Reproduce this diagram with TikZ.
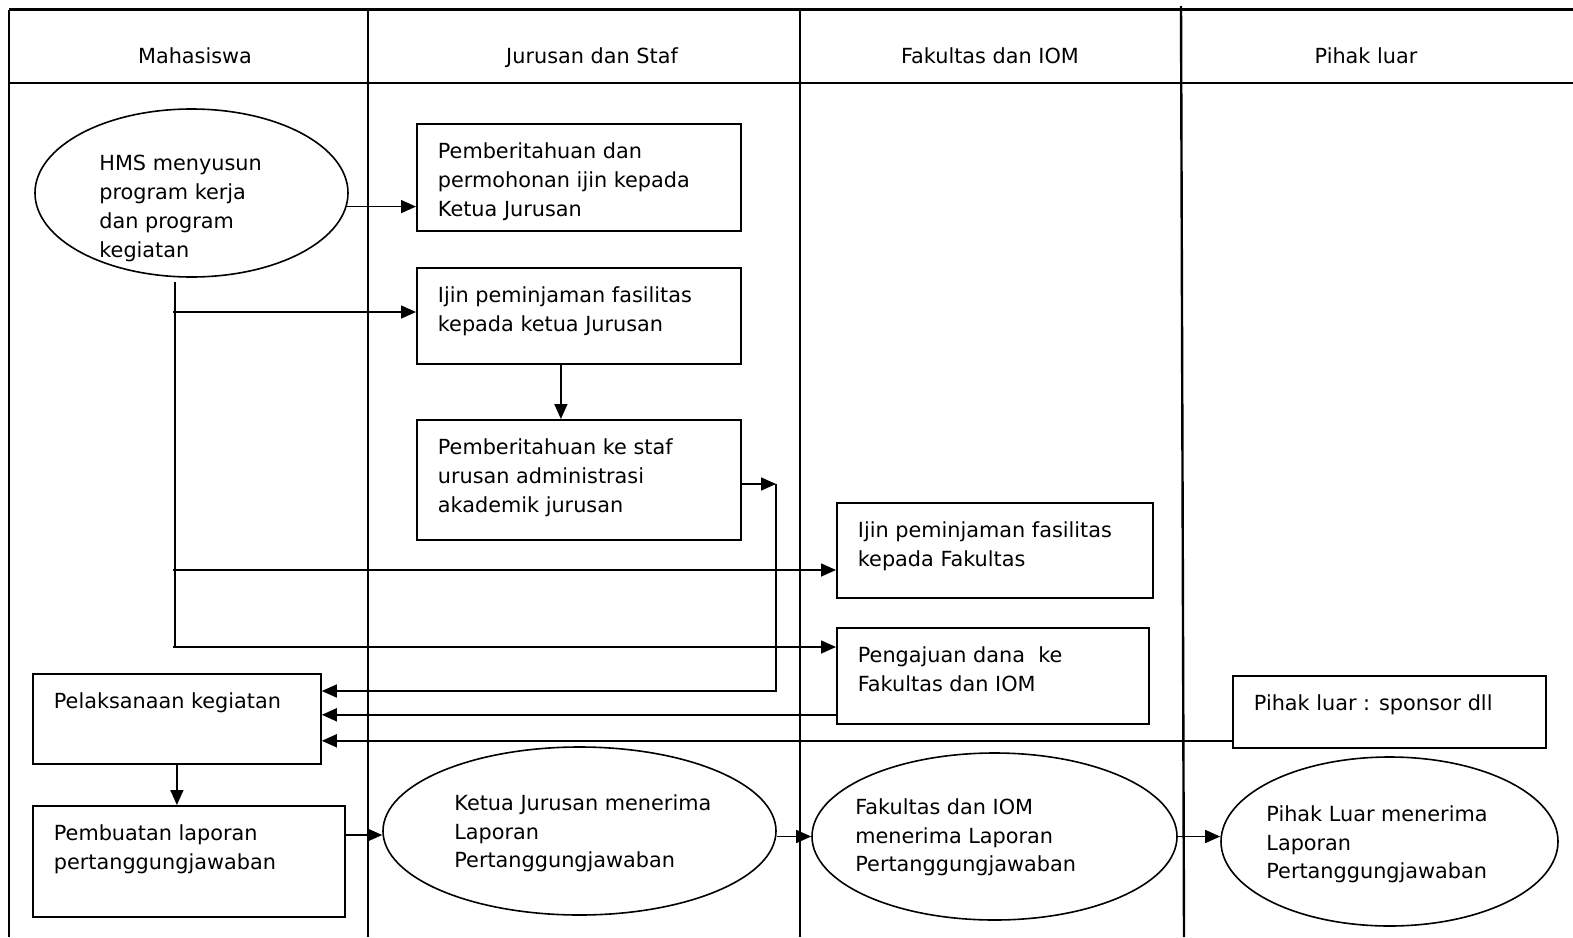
\documentclass[tikz,border=0pt]{standalone}
\usepackage{fontspec}
\setmainfont{DejaVu Sans}
\usetikzlibrary{arrows.meta,shapes.geometric,calc}

% text of a box, hung from its top edge
\newcommand{\boxlines}[3]{\parbox[c][#2][t]{#1}{\vspace*{7.4pt}\strut#3}}

\begin{document}
\begin{tikzpicture}[
    x=0.5pt, y=-0.5pt,
    font=\fontsize{10.4}{14.4}\selectfont,
    lane/.style={line width=1.2pt},
    stepbox/.style={draw, line width=0.9pt, anchor=north west, inner xsep=10.5pt, inner ysep=0pt},
    oval/.style={draw, ellipse, line width=0.8pt, inner sep=0pt},
    ovaltext/.style={anchor=north west, align=left, inner sep=0pt},
    head/.style={anchor=base},
    ln/.style={line width=0.8pt},
    ar/.style={-{Triangle[length=7.5pt,width=6.5pt]}, line width=0.8pt}
  ]
    \useasboundingbox (0,0) rectangle (1573,937);

    % swimlanes
    \draw[lane] (9,9.5) -- (1573,9.5);
    \draw[lane] (9,83) -- (1573,83);
    \draw[lane] (9,9.5) -- (9,937);
    \draw[lane] (368,9.5) -- (368,937);
    \draw[lane] (800,9.5) -- (800,937);
    \draw[lane] (1181,6) -- (1184,937);

    \node[head] (hMhs) at (195,63) {Mahasiswa};
    \node[head] (hJur) at (592,63) {Jurusan dan Staf};
    \node[head] (hFak) at (990,63) {Fakultas dan IOM};
    \node[head] (hLuar) at (1366,63) {Pihak luar};

    % Mahasiswa
    \node[oval, minimum width=156.5pt, minimum height=84pt] (hms) at (191.5,193) {};
    \node[ovaltext] (hmsTxt) at (99,155)
      {HMS menyusun\\program kerja\\dan program\\kegiatan};
    \node[stepbox] (pelak) at (32,673)
      {\boxlines{123pt}{45pt}{Pelaksanaan kegiatan}};
    \node[stepbox] (laporan) at (32,805)
      {\boxlines{135pt}{55.5pt}{Pembuatan laporan\\pertanggungjawaban}};

    % Jurusan dan Staf
    \node[stepbox] (ijinKetua) at (416,123)
      {\boxlines{141pt}{53.5pt}{Pemberitahuan dan\\permohonan ijin kepada\\Ketua Jurusan}};
    \node[stepbox] (ijinFas) at (416,267)
      {\boxlines{141pt}{48pt}{Ijin peminjaman fasilitas\\kepada ketua Jurusan}};
    \node[stepbox] (stafAdm) at (416,419)
      {\boxlines{141pt}{60pt}{Pemberitahuan ke staf\\urusan administrasi\\akademik jurusan}};
    \node[oval, minimum width=196.5pt, minimum height=84pt] (terimaJur) at (579.5,831) {};
    \node[ovaltext] (terimaJurTxt) at (454,794)
      {Ketua Jurusan menerima\\Laporan\\Pertanggungjawaban};

    % Fakultas dan IOM
    \node[stepbox] (ijinFak) at (836,502)
      {\boxlines{137pt}{47.5pt}{Ijin peminjaman fasilitas\\kepada Fakultas}};
    \node[stepbox] (dana) at (836,627)
      {\boxlines{135pt}{48pt}{Pengajuan dana~ ke\\Fakultas dan IOM}};
    \node[oval, minimum width=182.5pt, minimum height=83.5pt] (terimaFak) at (994.5,836.5) {};
    \node[ovaltext] (terimaFakTxt) at (855,798)
      {Fakultas dan IOM\\menerima Laporan\\Pertanggungjawaban};

    % Pihak luar
    \node[stepbox] (sponsor) at (1232,675)
      {\boxlines{135.5pt}{36pt}{Pihak luar : sponsor dll}};
    \node[oval, minimum width=168.5pt, minimum height=84.5pt] (terimaLuar) at (1389.5,841.5) {};
    \node[ovaltext] (terimaLuarTxt) at (1266,805)
      {Pihak Luar menerima\\Laporan\\Pertanggungjawaban};

    % flows out of the work plan
    \draw[ar] (hms.-5.6) -- (hms.-5.6 -| ijinKetua.west);
    \coordinate (trunkTop) at (175,282);
    \coordinate (trunkBot) at (175,647);
    \draw[ln] (trunkTop) -- (trunkBot);
    \coordinate (toJur) at (173,312);
    \coordinate (toFak) at (173,570);
    \coordinate (toDana) at (173,647);
    \draw[ar] (toJur) -- (toJur -| ijinFas.west);
    \draw[ar] (toFak) -- (toFak -| ijinFak.west);
    \draw[ar] (toDana) -- (toDana -| dana.west);
    \draw[ar] ([xshift=-9pt]ijinFas.south) -- ([xshift=-9pt]stafAdm.north);

    % everything comes back to the activity
    \coordinate (bendTop) at (776,484);
    \coordinate (bendBot) at (776,691);
    \draw[ar] (stafAdm.east |- bendTop) -- (bendTop);
    \draw[ar] (bendTop) -- (bendBot) -- (bendBot -| pelak.east);
    \coordinate (danaOut) at ([yshift=5pt]dana.south west);
    \draw[ar] (danaOut) -- (danaOut -| pelak.east);
    \coordinate (sponOut) at ([yshift=4pt]sponsor.south west);
    \draw[ar] (sponOut) -- (sponOut -| pelak.east);

    % report chain
    \draw[ar] (pelak.south) -- (pelak.south |- laporan.north);
    \coordinate (lapOut) at ([yshift=-15pt]laporan.north east);
    \draw[ar] (lapOut) -- (lapOut -| terimaJur.west);
    \draw[ar] (terimaFak.west -| terimaJur.east) -- (terimaFak.west);
    \draw[ar] (terimaFak.east) -- (terimaFak.east -| terimaLuar.west);
  \end{tikzpicture}
\end{document}
